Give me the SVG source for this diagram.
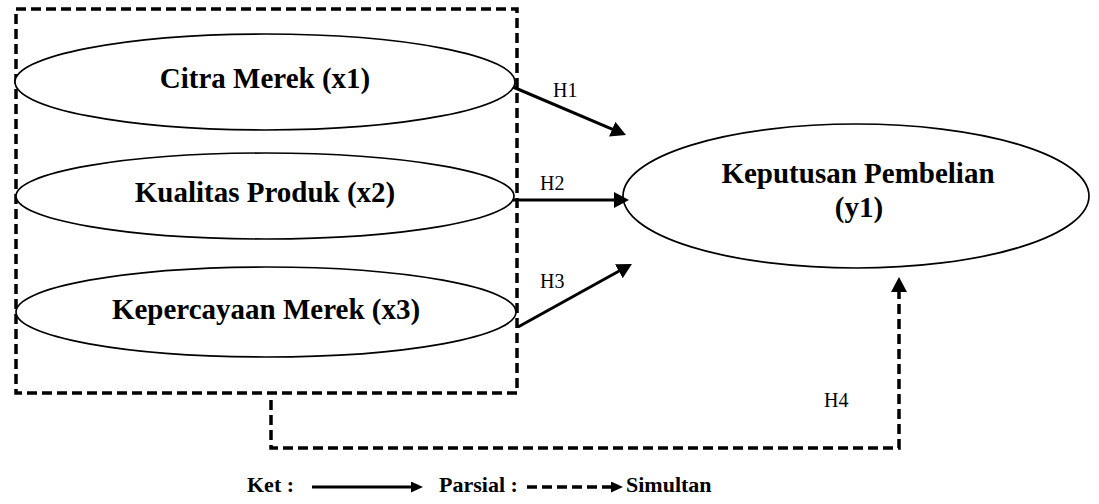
<svg xmlns="http://www.w3.org/2000/svg" width="1099" height="504" viewBox="0 0 1099 504">
<style>
.node{fill:#fff;stroke:#000;stroke-width:1.7}
.lbl{font-family:"Liberation Serif","Times New Roman",serif;font-weight:bold;font-size:29px;fill:#000;text-anchor:middle}
.h{font-family:"Liberation Serif","Times New Roman",serif;font-size:20px;fill:#000}
.leg{font-family:"Liberation Serif","Times New Roman",serif;font-weight:bold;font-size:22px;fill:#000}
.solid{fill:none;stroke:#000;stroke-width:3}
.dash{fill:none;stroke:#000;stroke-width:3.5;stroke-dasharray:10 5}
</style>
<defs>
<marker id="ah" markerUnits="userSpaceOnUse" markerWidth="15" markerHeight="16" refX="5" refY="8" orient="auto">
<path d="M0,0 L15,8 L0,16 Z" fill="#000"/>
</marker>
<marker id="ahs" markerUnits="userSpaceOnUse" markerWidth="12" markerHeight="11" refX="4" refY="5.5" orient="auto">
<path d="M0,0 L12,5.5 L0,11 Z" fill="#000"/>
</marker>
</defs>
<g id="group-box">
<rect x="16" y="9" width="501" height="384" class="dash"/>
</g>
<g id="node-x1">
<ellipse cx="265" cy="82" rx="250" ry="48" class="node"/>
<text x="265" y="88" class="lbl">Citra Merek (x1)</text>
</g>
<g id="node-x2">
<ellipse cx="265" cy="196" rx="249" ry="43" class="node"/>
<text x="265" y="202" class="lbl">Kualitas Produk (x2)</text>
</g>
<g id="node-x3">
<ellipse cx="266" cy="312" rx="250" ry="45" class="node"/>
<text x="266" y="319" class="lbl">Kepercayaan Merek (x3)</text>
</g>
<g id="node-y1">
<ellipse cx="856" cy="196" rx="233" ry="72" class="node"/>
<text x="858" y="183" class="lbl">Keputusan Pembelian</text>
<text x="859" y="217" class="lbl">(y1)</text>
</g>
<g id="connectors">
<line x1="513" y1="87" x2="616.8" y2="131.1" class="solid" marker-end="url(#ah)"/>
<line x1="513" y1="200" x2="619" y2="200" class="solid" marker-end="url(#ah)"/>
<line x1="518" y1="327" x2="623.2" y2="268.8" class="solid" marker-end="url(#ah)"/>
<path d="M271,400 V448 H899 V287" class="dash" marker-end="url(#ah)"/>
<text x="553" y="97" class="h">H1</text>
<text x="540" y="190" class="h">H2</text>
<text x="540" y="288" class="h">H3</text>
<text x="824" y="407" class="h">H4</text>
</g>
<g id="legend">
<text x="247" y="492" class="leg">Ket :</text>
<line x1="312" y1="487" x2="415" y2="487" class="solid" marker-end="url(#ahs)"/>
<text x="439" y="492" class="leg">Parsial :</text>
<line x1="527" y1="487" x2="615" y2="487" class="dash" marker-end="url(#ahs)"/>
<text x="626" y="492" class="leg">Simultan</text>
</g>
</svg>
